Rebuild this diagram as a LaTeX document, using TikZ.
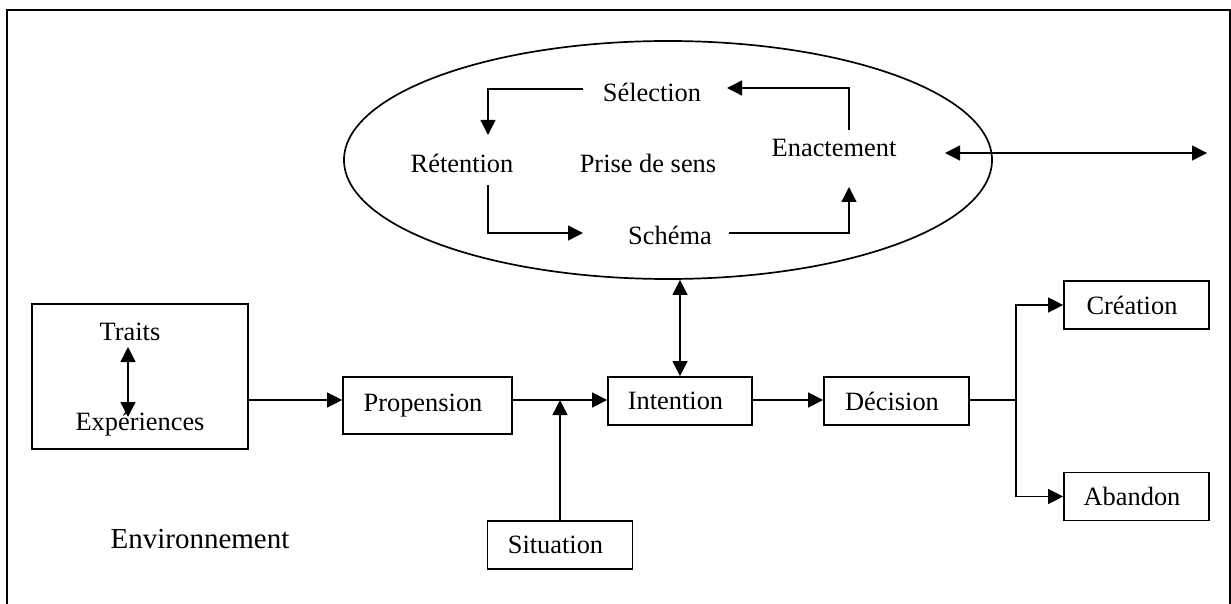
\documentclass[tikz,border=0pt]{standalone}
\usepackage{fontspec}
\setmainfont{Liberation Serif}
\usetikzlibrary{arrows.meta,shapes.geometric}
\tikzset{
  box/.style={draw, line width=0.85pt, inner sep=0pt, minimum width=72.5pt, minimum height=24pt,
    execute at begin node={\hspace*{-4.5pt}}},
  txt/.style={inner sep=0pt},
  ln/.style={line width=0.7pt},
  arr/.style={line width=0.7pt, -{Triangle[length=7.5pt,width=7.5pt]}},
  dbl/.style={line width=0.7pt, {Triangle[length=7.5pt,width=7.5pt]}-{Triangle[length=7.5pt,width=7.5pt]}},
}
\begin{document}
\begin{tikzpicture}[x=0.5pt,y=-0.5pt,font=\fontsize{13.2pt}{15pt}\selectfont]
\useasboundingbox (0,0) rectangle (1231,604);
% frame
\draw[line width=1pt] (7,604) -- (7,10) -- (1230,10) -- (1230,604);

% sensemaking ellipse
\node[draw, ellipse, line width=0.85pt, minimum width=324pt, minimum height=119pt, inner sep=0pt] (ell) at (668,160) {};
\node[txt] (sel) at (652,92) {Sélection};
\node[txt] (ret) at (462,163) {Rétention};
\node[txt] (pds) at (648,163) {Prise de sens};
\node[txt] (ena) at (834,148) {Enactement};
\node[txt] (sch) at (670,235) {Schéma};

\coordinate (a1s) at (583,89);  \coordinate (a1e) at (488,135);
\coordinate (a2s) at (488,185); \coordinate (a2e) at (583,233);
\coordinate (a3s) at (729,233); \coordinate (a3e) at (849,187);
\coordinate (a4s) at (849,130); \coordinate (a4e) at (727,88);
\draw[arr] (a1s) -| (a1e);
\draw[arr] (a2s) |- (a2e);
\draw[arr] (a3s) -| (a3e);
\draw[arr] (a4s) |- (a4e);

\coordinate (rl) at (945,153); \coordinate (rr) at (1207,153);
\draw[dbl] (rl) -- (rr);

% traits box
\node[box, minimum width=108pt, minimum height=72.5pt] (tbox) at (140,376.5) {};
\node[txt] (traits) at (130,332) {Traits};
\node[txt] (exp) at (140,424) {Expériences};
\coordinate (t1) at (128,347); \coordinate (t2) at (128,417);
\draw[dbl] (t1) -- (t2);

% main flow
\node[box, minimum width=84.5pt, minimum height=28.5pt] (prop) at (427.5,405.5) {Propension};
\node[box, minimum width=72pt] (intent) at (680,401) {Intention};
\node[box] (dec) at (896.5,401) {Décision};
\node[box] (crea) at (1136.5,305) {Création};
\node[box] (aban) at (1136.5,496.5) {Abandon};
\node[box] (sit) at (560,545) {Situation};
\node[txt, font=\fontsize{14.5pt}{17pt}\selectfont] (env) at (200,539) {Environnement};

\coordinate (fy) at (0,400);
\coordinate (jn) at (560,400);
\coordinate (sp) at (1016,400);
\draw[arr] (tbox.east |- fy) -- (prop.west |- fy);
\draw[arr] (prop.east |- fy) -- (intent.west |- fy);
\draw[arr] (sit.north) -- (jn);
\draw[dbl] (ell.south -| intent.north) -- (intent.north);
\draw[arr] (intent.east |- fy) -- (dec.west |- fy);
\draw[ln] (dec.east |- fy) -- (sp);
\draw[arr] (sp) |- (crea.west);
\draw[arr] (sp) |- (aban.west);
\end{tikzpicture}
\end{document}
